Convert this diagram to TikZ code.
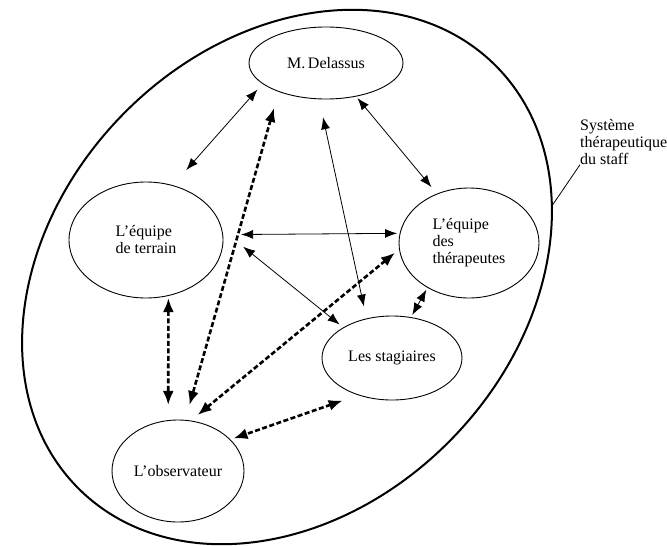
\documentclass[tikz,border=0pt]{standalone}
\usepackage{fontspec}
\setmainfont{Liberation Serif}
\usetikzlibrary{arrows.meta, shapes.geometric}

\begin{document}
\begin{tikzpicture}[
    x = 1pt, y = -1pt,
    font          = \fontsize{16}{17}\selectfont,
    grp/.style    = {draw, ellipse, line width=0.9pt, inner sep=0pt,
                     outer sep=0pt, align=left},
    arr/.style    = {arrows={Latex[length=12pt, width=9pt]-Latex[length=12pt, width=9pt]},
                     line width=0.8pt},
    darr/.style   = {arrows={Latex[length=14pt, width=11pt]-Latex[length=14pt, width=11pt]},
                     line width=2.6pt, dash pattern=on 5pt off 2.5pt},
  ]
  \useasboundingbox (0,0) rectangle (667,546);
  % the whole staff system
  \node[draw, ellipse, line width=2pt, outer sep=0pt, minimum width=594pt,
        minimum height=462pt, rotate=46] (sys) at (287,277) {};
  \node[grp, minimum width=154pt, minimum height=72pt] (del) at (326,63) {M.\,Delassus};
  \node[grp, minimum width=154pt, minimum height=116pt] (ter) at (146,240) {L’équipe\\de terrain};
  \node[grp, minimum width=140pt, minimum height=110pt] (the) at (469,243) {L’équipe\\des\\thérapeutes};
  \node[grp, minimum width=140pt, minimum height=84pt] (sta) at (392,358) {Les stagiaires};
  \node[grp, minimum width=132pt, minimum height=102pt] (obs) at (178,471) {L’observateur};
  \node[anchor=north west, align=left, inner sep=0pt] (lbl) at (580,119)
       {Système\\thérapeutique\\du staff};
  \draw[line width=0.8pt] (lbl.south west) -- (sys.-31);
  \draw[arr, shorten <=8pt, shorten >=20.7pt] (del.198.6) -- (ter.64.4);
  \draw[arr, shorten <=2.5pt, shorten >=9pt] (del.312) -- (the.123.3);
  \draw[arr, shorten <=18.4pt, shorten >=3pt] (ter.4.5) -- (the.172.6);
  \draw[arr, shorten <=27.5pt, shorten >=5pt] (ter.8) -- (sta.148.7);
  \draw[arr, shorten <=18.8pt, shorten >=12.6pt] (del.259.6) -- (sta.123.8);
  \draw[arr, shorten <=2.6pt, shorten >=2.9pt] (the.227.7) -- (sta.65.4);
  % links with the observer
  \draw[darr, shorten <=2.6pt, shorten >=15.6pt] (ter.292.5) -- (obs.101.2);
  \draw[darr, shorten <=17.2pt, shorten >=15.8pt] (del.211.9) -- (obs.82.6);
  \draw[darr, shorten <=5.8pt, shorten >=9.3pt] (the.185.4) -- (obs.76.7);
  \draw[darr, shorten <=17pt, shorten >=3.6pt] (sta.228.8) -- (obs.31.3);
\end{tikzpicture}
\end{document}
